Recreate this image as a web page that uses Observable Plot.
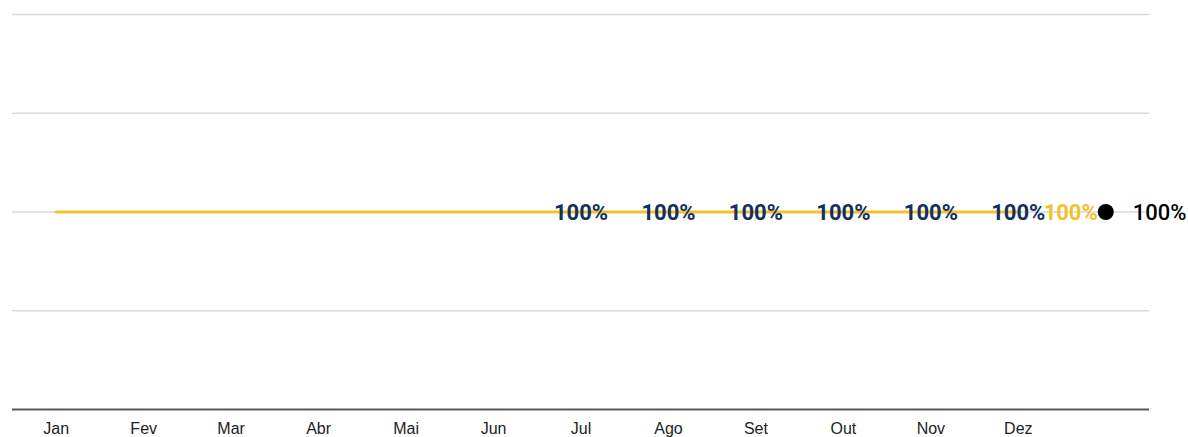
<!DOCTYPE html>
<html>
<head>
<meta charset="utf-8">
<script src="https://cdn.jsdelivr.net/npm/d3@7"></script>
<script src="https://cdn.jsdelivr.net/npm/@observablehq/plot@0.6"></script>
<style>
  html, body { margin: 0; padding: 0; background: #fff; }
  #chart svg { display: block; }
</style>
</head>
<body>
<div id="chart"></div>
<script>
// Data
const months = ["Jan", "Fev", "Mar", "Abr", "Mai", "Jun", "Jul", "Ago", "Set", "Out", "Nov", "Dez"];
const values = [1, 1, 1, 1, 1, 1, 1, 1, 1, 1, 1, 1];
const shownLabels = [null, null, null, null, null, null, 1, 1, 1, 1, 1, 1];
const totalCategory = "";
const totalValue = 1;
const targetValue = 1;
const gridTicks = [0.5, 1, 1.5, 2];

const fmt = d3.format(".0%");
const series = months.map((m, i) => ({month: m, value: values[i], label: shownLabels[i]}));
const labelled = series.filter(d => d.label != null);
const total = [{month: totalCategory, value: totalValue, target: targetValue}];

const chart = Plot.plot({
  width: 1188,
  height: 437,
  marginLeft: 12,
  marginRight: 39,
  marginTop: 14,
  marginBottom: 28,
  style: {fontFamily: "'Liberation Sans', Arial, sans-serif", fontSize: "16px", color: "#222", background: "#fff"},
  x: {type: "point", domain: [...months, totalCategory], padding: 0.5, round: false, label: null, tickSize: 0, tickPadding: 13},
  y: {domain: [0, 2], axis: null},
  marks: [
    Plot.ruleY(gridTicks, {stroke: "#d9d9d9", strokeWidth: 1.5}),
    Plot.ruleY([0], {stroke: "#595959", strokeWidth: 2}),
    Plot.line(series, {x: "month", y: "value", stroke: "#f2c12e", strokeWidth: 3}),
    Plot.text(labelled, {x: "month", y: "value", text: d => fmt(d.value), fill: "#13305e", fontWeight: "bold", fontSize: 22, fontFamily: "Roboto, sans-serif", dy: 1}),
    Plot.dot(total, {x: "month", y: "value", r: 8, fill: "#000"}),
    Plot.text(total, {x: "month", y: "value", text: d => fmt(d.value), fill: "#f2c12e", fontWeight: "bold", fontSize: 22, fontFamily: "Roboto, sans-serif", textAnchor: "end", dx: -8, dy: 1}),
    Plot.text(total, {x: "month", y: "target", text: d => fmt(d.target), fill: "#000", fontWeight: 500, fontSize: 22, fontFamily: "Roboto, sans-serif", textAnchor: "start", dx: 27, dy: 1})
  ]
});
document.getElementById("chart").appendChild(chart);
</script>
</body>
</html>
